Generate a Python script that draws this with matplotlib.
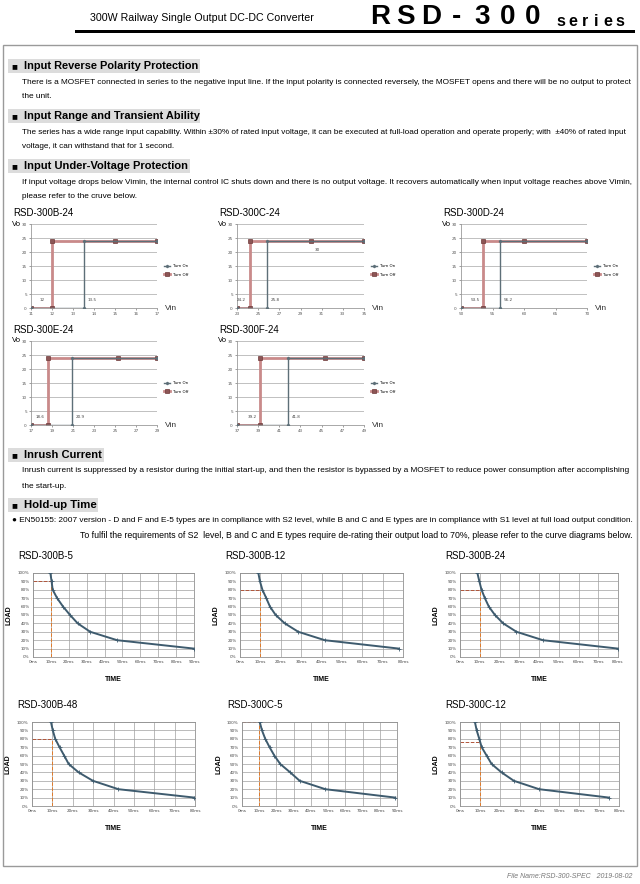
import matplotlib
matplotlib.use("Agg")
import matplotlib.pyplot as plt
from matplotlib.patches import Rectangle

W, H = 640, 884
NARROW = ['Liberation Sans Narrow', 'Liberation Sans', 'DejaVu Sans']
SANS = ['Liberation Sans', 'DejaVu Sans']

# ---- under-voltage protection curves (Vin -> Vo) ----
uvp_titles = ["RSD-300B-24", "RSD-300C-24", "RSD-300D-24", "RSD-300E-24", "RSD-300F-24"]
uvp_xticks = [[11, 12, 13, 14, 15, 16, 17],
              [23, 25, 27, 29, 31, 33, 35],
              [50, 55, 60, 65, 70],
              [17, 19, 21, 23, 25, 27, 29],
              [37, 39, 41, 43, 45, 47, 49]]
uvp_off_x = [[11, 12, 12, 15, 17],
             [23, 24.2, 24.2, 30, 35],
             [50, 53.5, 53.5, 60, 70],
             [17, 18.6, 18.6, 25.3, 29],
             [37, 39.2, 39.2, 45.3, 49]]
uvp_off_y = [0, 0, 24, 24, 24]
uvp_on_x = [[11, 13.5, 13.5, 17],
            [23, 25.8, 25.8, 35],
            [50, 56.2, 56.2, 70],
            [17, 20.9, 20.9, 29],
            [37, 41.8, 41.8, 49]]
uvp_on_y = [0, 0, 24, 24]
uvp_off_val = ["12", "24.2", "53.5", "18.6", "39.2"]
uvp_on_val = ["13.5", "25.8", "56.2", "20.9", "41.8"]

# ---- hold-up time curves (time ms -> load %) ----
hu_titles = ["RSD-300B-5", "RSD-300B-12", "RSD-300B-24",
             "RSD-300B-48", "RSD-300C-5", "RSD-300C-12"]
hu_xmax = [90, 80, 80, 80, 90, 80]
hu_load = [100, 90, 80, 70, 60, 50, 40, 30, 20, 10]
hu_time = [[9.7, 10.4, 11.0, 13.5, 16.8, 20.7, 25.0, 32.0, 47.0, 90.0],
           [9.0, 9.8, 11.0, 12.9, 14.7, 17.5, 22.0, 28.6, 41.6, 78.0],
           [8.8, 9.8, 10.9, 12.6, 14.6, 17.7, 21.9, 28.6, 42.0, 80.0],
           [9.3, 10.2, 11.4, 13.5, 15.8, 18.0, 22.9, 29.9, 42.4, 79.7],
           [10.3, 11.6, 13.5, 16.0, 18.8, 22.2, 28.0, 33.5, 48.4, 89.0],
           [7.5, 8.4, 9.7, 10.9, 13.4, 15.9, 20.9, 27.1, 39.8, 75.0]]
hu_guide_t = [10, 10, 10, 10, 10, 10]
hu_guide_load = [90, 80, 80, 80, 100, 76]

# ---- page text ----
sections = [
    ("Input Reverse Polarity Protection", 66, 200,
     ["There is a MOSFET connected in series to the negative input line. If the input polarity is connected reversely, the MOSFET opens and there will be no output to protect",
      "the unit."], [82, 97]),
    ("Input Range and Transient Ability", 116, 200,
     ["The series has a wide range input capability. Within \u00b130% of rated input voltage, it can be executed at full-load operation and operate properly; with  \u00b140% of rated input",
      "voltage, it can withstand that for 1 second."], [132, 147]),
    ("Input Under-Voltage Protection", 166, 190,
     ["If input voltage drops below Vimin, the internal control IC shuts down and there is no output voltage. It recovers automatically when input voltage reaches above Vimin,",
      "please refer to the cruve below."], [183, 197]),
    ("Inrush Current", 455, 104,
     ["Inrush current is suppressed by a resistor during the initial start-up, and then the resistor is bypassed by a MOSFET to reduce power consumption after accomplishing",
      "the start-up."], [471, 486]),
    ("Hold-up Time", 505, 98, [], []),
]
holdup_line1 = "\u25cf EN50155: 2007 version - D and F and E-5 types are in compliance with S2 level, while B and C and E types are in compliance with S1 level at full load output condition."
holdup_line2 = "To fulfil the requirements of S2  level, B and C and E types require de-rating their output load to 70%, please refer to the curve diagrams below."

fig = plt.figure(figsize=(6.4, 8.84), dpi=100)
renderer = fig.canvas.get_renderer()


def fx(x):
    return x / W


def fy(y):
    return 1 - y / H


def box(l, t, r, b):
    return [fx(l), fy(b), (r - l) / W, (b - t) / H]


def fit(x, y, s, width, ha='left', **kw):
    # put text at pixel position and scale the font so it spans `width` px
    t = fig.text(fx(x), fy(y), s, ha=ha, va='center', **kw)
    w = t.get_window_extent(renderer).width
    t.set_fontsize(t.get_fontsize() * width / w)
    return t


# header
fit(90, 18, "300W Railway Single Output DC-DC Converter", 222, family=NARROW)
for k, ch in enumerate("RSD-300"):
    fig.text(fx(380 + 25.5 * k), fy(17), ch, ha='center', va='center', fontsize=20,
             fontweight='bold', family=SANS)
for k, ch in enumerate("series"):
    fig.text(fx(561 + 11.8 * k), fy(21), ch, ha='center', va='center', fontsize=11.5,
             fontweight='bold', family=SANS)
fig.add_artist(Rectangle((fx(75), fy(33)), (635 - 75) / W, 3 / H, transform=fig.transFigure,
                         facecolor='black', edgecolor='none'))

# page frame
fig.add_artist(Rectangle((fx(3), fy(866)), 634 / W, 821 / H, transform=fig.transFigure,
                         facecolor='none', edgecolor='#9a9a9a', lw=1))

# section headings and body text
for title, ty, tw, lines, ly in sections:
    fig.add_artist(Rectangle((fx(8), fy(ty + 7)), (tw - 8) / W, 14 / H, transform=fig.transFigure,
                             facecolor='#dcdcdc', edgecolor='none'))
    fig.text(fx(11), fy(ty), "\u25a0", fontsize=7, va='center', family=SANS)
    fit(24, ty, title, tw - 26, family=SANS, fontweight='bold')
    size = 6.3
    for i, (s, y) in enumerate(zip(lines, ly)):
        if i == 0:
            size = fit(22, y, s, 610, family=NARROW).get_fontsize()
        else:
            fig.text(fx(22), fy(y), s, va='center', family=NARROW, fontsize=size)

fit(12, 520, holdup_line1, 620, family=NARROW)
fit(632, 535, holdup_line2, 557, ha='right', family=NARROW)

# footer
fig.text(fx(632), fy(877), "File Name:RSD-300-SPEC   2019-08-02", ha='right', va='center',
         fontsize=5, style='italic', color='#777777', family=SANS)

# ---- UVP charts ----
uvp_pos = [(31, 224, 157, 308), (237, 224, 364, 308), (461, 224, 587, 308),
           (31, 341, 157, 425), (237, 341, 364, 425)]
for i in range(5):
    l, t, r, b = uvp_pos[i]
    ax = fig.add_axes(box(l, t, r, b))
    xt = uvp_xticks[i]
    ax.plot(uvp_on_x[i], uvp_on_y, color='#5d6f78', lw=1.0, marker='D', ms=1.2,
            label='Turn On', zorder=3)
    ax.plot(uvp_off_x[i], uvp_off_y, color='#c98a8a', lw=2.0, marker='s', ms=3.2,
            mfc='#8c5555', mec='#6e3a3a', mew=0.5, label='Turn Off', zorder=2)
    ax.set_xlim(xt[0], xt[-1])
    ax.set_ylim(0, 30)
    ax.set_xticks(xt)
    ax.set_yticks(range(0, 31, 5))
    ax.grid(axis='y', color='#b5b5b5', lw=0.6)
    ax.set_axisbelow(True)
    for s in ['top', 'right']:
        ax.spines[s].set_visible(False)
    for s in ['left', 'bottom']:
        ax.spines[s].set_color('#9a9a9a')
        ax.spines[s].set_linewidth(0.6)
    ax.tick_params(labelsize=3, length=1.5, width=0.4, colors='#555555', pad=1.5)
    ax.legend(loc='center left', bbox_to_anchor=(1.04, 0.45), fontsize=2.8, frameon=False,
              handlelength=1.6, labelspacing=1.2, borderpad=0)
    span = xt[-1] - xt[0]
    ax.text(uvp_off_x[i][1] - 0.1 * span, 2, uvp_off_val[i], fontsize=3, color='#444444', va='bottom')
    ax.text(uvp_on_x[i][1] + 0.03 * span, 2, uvp_on_val[i], fontsize=3, color='#444444', va='bottom')
    if i == 1:
        ax.text(30.3, 21.5, "30", fontsize=3, color='#444444', va='top')
    fig.text(fx(l - 19), fy(t), "Vo", fontsize=5.5, va='center', family=NARROW)
    fig.text(fx(r + 8), fy(b), "Vin", fontsize=6, va='center', family=NARROW, color='#333333')
    fig.text(fx(l - 18), fy(t - 11), uvp_titles[i], fontsize=7, va='center', family=SANS)

# ---- hold-up charts ----
hu_pos = [(33, 573, 194, 657), (240, 573, 403, 657), (460, 573, 618, 657),
          (32, 722, 195, 806), (242, 722, 397, 806), (460, 722, 619, 806)]
for i in range(6):
    l, t, r, b = hu_pos[i]
    ax = fig.add_axes(box(l, t, r, b))
    xm = hu_xmax[i]
    ax.plot([0, hu_guide_t[i]], [hu_guide_load[i]] * 2, ls='--', lw=0.7, color='#b0553a', zorder=2)
    ax.plot([hu_guide_t[i]] * 2, [0, hu_guide_load[i]], ls='--', lw=0.7, color='#e07a2a', zorder=2)
    ax.plot(hu_time[i], hu_load, color='#3e5b6e', lw=1.4, marker='+', ms=2.5, mew=0.6, zorder=3)
    ax.set_xlim(0, xm)
    ax.set_ylim(0, 100)
    ax.set_xticks(range(0, xm + 1, 10))
    ax.set_xticklabels([f"{v}ms" for v in range(0, xm + 1, 10)])
    ax.set_yticks(range(0, 101, 10))
    ax.set_yticklabels([f"{v}%" for v in range(0, 101, 10)])
    ax.grid(color='#a0a0a0', lw=0.5)
    ax.set_axisbelow(True)
    for s in ax.spines.values():
        s.set_color('#909090')
        s.set_linewidth(0.6)
    ax.tick_params(labelsize=3, length=0, colors='#444444', pad=2.5)
    ax.text(-0.15, 0.5, "LOAD", rotation=90, transform=ax.transAxes, ha='center', va='center',
            fontsize=5, fontweight='bold', family=SANS)
    ax.text(0.5, -0.27, "TIME", transform=ax.transAxes, ha='center', va='center',
            fontsize=5, fontweight='bold', family=SANS)
    fig.text(fx(l - 15), fy(t - 17), hu_titles[i], fontsize=7, va='center', family=SANS)

fig.savefig("out.png", dpi=100)
